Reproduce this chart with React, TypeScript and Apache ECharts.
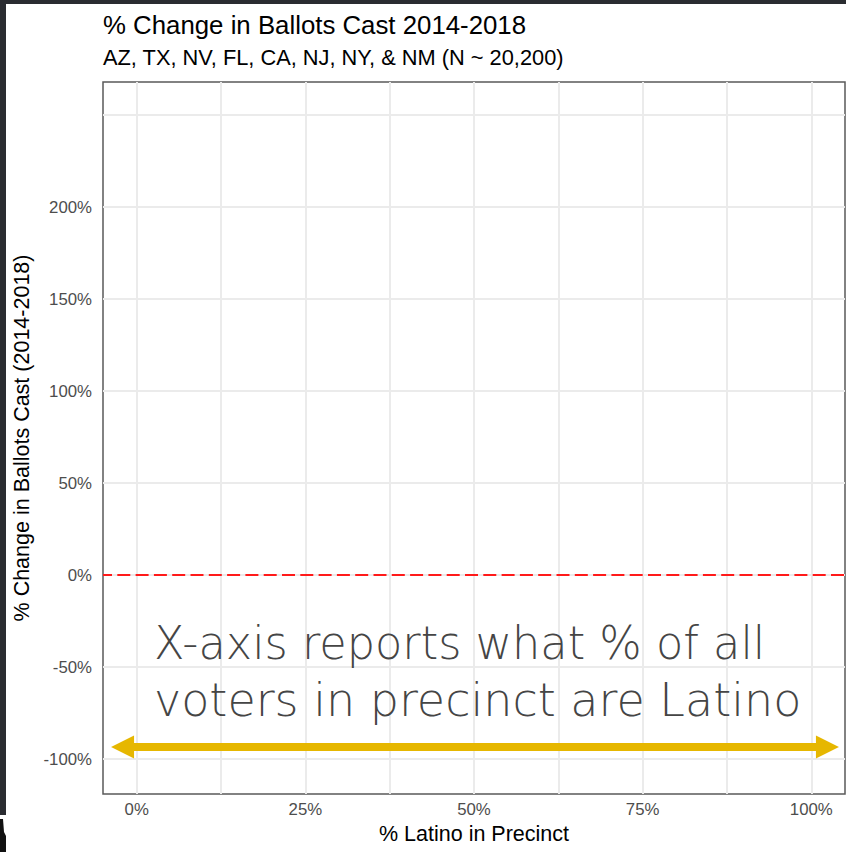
import React, { useEffect, useRef } from "react";
import * as echarts from "echarts";

// Axis ticks / labels
const xTickValues = [0, 25, 50, 75, 100];
const yTickValues = [-100, -50, 0, 50, 100, 150, 200];
// Grid lines (vertical every 12.5%, horizontal every 50%)
const xGridValues = [0, 12.5, 25, 37.5, 50, 62.5, 75, 87.5, 100];
const yGridValues = [-100, -50, 0, 50, 100, 150, 200, 250];
// Reference line value
const referenceY = [0];
// Arrow annotation range (data units)
const arrowX = [-2.1, 102.4];
const arrowY = [-93.5];
// Axis ranges
const xRange = [-5, 105];
const yRange = [-119, 268];

const annotationLines = ["X-axis reports what % of all", "voters in precinct are Latino"];

const titleText = "% Change in Ballots Cast 2014-2018";
const subtitleText = "AZ, TX, NV, FL, CA, NJ, NY, & NM (N ~ 20,200)";
const xName = "% Latino in Precinct";
const yName = "% Change in Ballots Cast (2014-2018)";

const SANS = "'Liberation Sans', Arial, Helvetica, sans-serif";

export default function App() {
  const ref = useRef<HTMLDivElement>(null);
  useEffect(() => {
    if (!ref.current) return;
    const chart = echarts.init(ref.current, null, { renderer: "svg" });
    const gridColor = "#ebebeb";
    const option: any = {
      animation: false,
      backgroundColor: "#ffffff",
      title: {
        text: titleText,
        subtext: subtitleText,
        left: 98,
        top: 7,
        itemGap: 8,
        textStyle: { fontFamily: SANS, fontSize: 25.8, fontWeight: "normal", color: "#000" },
        subtextStyle: { fontFamily: SANS, fontSize: 21.8, color: "#000" },
      },
      grid: {
        left: 103,
        top: 82,
        right: 1,
        bottom: 58,
        show: true,
        backgroundColor: "#fff",
        borderColor: "#5a5a5a",
        borderWidth: 1.5,
        z: 0,
      },
      xAxis: {
        type: "value",
        min: xRange[0],
        max: xRange[1],
        name: xName,
        nameLocation: "middle",
        nameGap: 27,
        nameTextStyle: { fontFamily: SANS, fontSize: 21.5, color: "#000" },
        axisLine: { show: false },
        splitLine: { show: false },
        axisTick: { show: true, length: 5, customValues: xTickValues, lineStyle: { color: "#333", width: 1.5 } },
        axisLabel: {
          customValues: xTickValues,
          formatter: (v: number) => `${v}%`,
          fontFamily: SANS,
          fontSize: 16.8,
          color: "#4d4d4d",
          margin: 7,
        },
      },
      yAxis: {
        type: "value",
        min: yRange[0],
        max: yRange[1],
        name: yName,
        nameLocation: "middle",
        nameGap: 63,
        nameTextStyle: { fontFamily: SANS, fontSize: 21.5, color: "#000" },
        axisLine: { show: false },
        splitLine: { show: false },
        axisTick: { show: true, length: 5, customValues: yTickValues, lineStyle: { color: "#333", width: 1.5 } },
        axisLabel: {
          customValues: yTickValues,
          formatter: (v: number) => `${v}%`,
          fontFamily: SANS,
          fontSize: 16.8,
          color: "#4d4d4d",
          margin: 11,
        },
      },
      series: [
        {
          name: "grid",
          type: "line",
          data: [],
          silent: true,
          z: 1,
          markLine: {
            silent: true,
            symbol: "none",
            label: { show: false },
            lineStyle: { color: gridColor, width: 2, type: "solid" },
            data: [
              ...xGridValues.map((v) => ({ xAxis: v })),
              ...yGridValues.map((v) => ({ yAxis: v })),
            ],
          },
        },
        {
          name: "zero",
          type: "line",
          data: [],
          silent: true,
          z: 3,
          markLine: {
            silent: true,
            symbol: "none",
            label: { show: false },
            lineStyle: { color: "#ff1a1a", width: 2, type: [13, 5.3], dashOffset: 4 },
            data: referenceY.map((v) => ({ yAxis: v })),
          },
        },
        {
          name: "arrow",
          type: "line",
          data: [],
          silent: true,
          z: 5,
          markLine: {
            silent: true,
            symbol: ["triangle", "triangle"],
            symbolSize: 23,
            label: { show: false },
            lineStyle: { color: "#e6b700", width: 8, type: "solid" },
            itemStyle: { color: "#e6b700" },
            data: [[{ coord: [arrowX[0], arrowY[0]] }, { coord: [arrowX[1], arrowY[0]] }]],
          },
        },
      ],
      graphic: [
        { type: "rect", left: 0, top: 0, shape: { width: 846, height: 4 }, style: { fill: "#2a2c31" }, z: 100 },
        { type: "rect", left: 0, top: 0, shape: { width: 6, height: 815 }, style: { fill: "#2a2c31" }, z: 100 },
        {
          type: "polygon",
          shape: { points: [[0, 819], [3, 819], [4, 832], [6, 836], [6, 852], [0, 852]] },
          style: { fill: "#111" },
          z: 100,
        },
        {
          type: "text",
          x: 154,
          y: 643,
          scaleX: 0.97,
          style: {
            text: annotationLines[0],
            fontFamily: "'DejaVu Sans', sans-serif",
            fontWeight: 200,
            fontSize: 46,
            fill: "#454545",
            verticalAlign: "middle",
            align: "left",
          },
          z: 50,
        },
        {
          type: "text",
          x: 154,
          y: 700,
          scaleX: 1.0,
          style: {
            text: annotationLines[1],
            fontFamily: "'DejaVu Sans', sans-serif",
            fontWeight: 200,
            fontSize: 46,
            fill: "#454545",
            verticalAlign: "middle",
            align: "left",
          },
          z: 50,
        },
      ],
    };
    chart.setOption(option);
    return () => chart.dispose();
  }, []);
  return <div ref={ref} style={{ position: "absolute", left: 0, top: 0, width: 846, height: 852 }} />;
}
